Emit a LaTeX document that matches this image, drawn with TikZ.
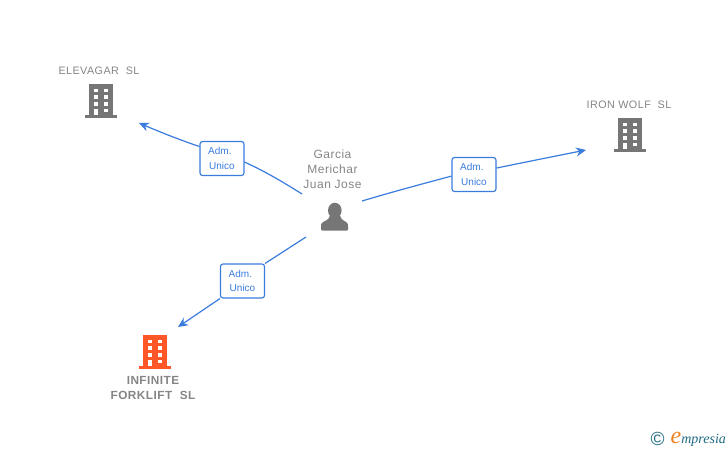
\documentclass[tikz,border=0pt]{standalone}
\usepackage{fontspec}
\setmainfont{Liberation Sans}
\newfontfamily\logofont{Liberation Serif}
\newfontfamily\spacedfont[LetterSpace=4]{Liberation Sans}
\usetikzlibrary{arrows.meta}
\newlength{\du}
\setlength{\du}{1pt}
\definecolor{labelgray}{RGB}{133,133,133}
\definecolor{icongray}{RGB}{118,118,118}
\definecolor{linkblue}{RGB}{58,124,222}
\definecolor{iconorange}{RGB}{255,87,40}
\definecolor{logoteal}{RGB}{30,105,130}
\definecolor{logoorange}{RGB}{240,130,30}
\tikzset{
  company/.style={text=labelgray,font=\spacedfont\fontsize{10.8}{14.5}\selectfont,align=center,inner sep=0pt},
  person/.style={text=labelgray,font=\spacedfont\fontsize{12}{14.8}\selectfont,align=center,inner sep=0pt},
  admbox/.style={draw=linkblue,fill=white,rounded corners=2.5pt,line width=1.1pt,text=linkblue,minimum width=44\du,minimum height=34\du,inner sep=0pt,align=left,font=\fontsize{10}{14.8}\selectfont},
  link/.style={draw=linkblue,line width=1.2pt},
  linkend/.style={link,-{Stealth[length=10pt,width=9pt]}},
}
% building icon, the first two values are the right end of its foot
\newcommand{\building}[3]{
  \fill[#3] (#1\du-22.7\du,#2\du-34\du) rectangle (#1\du+0.7\du,#2\du-2\du);
  \fill[#3] (#1\du-27\du,#2\du-3.2\du) rectangle (#1\du+5\du,#2\du);
  \foreach \wx in {-18.5,-8.5}
    \foreach \wy in {-29.5,-22.8,-16.1}
      \fill[white] (#1\du+\wx\du,#2\du+\wy\du) rectangle ++(4.8\du,3.6\du);
  \fill[white] (#1\du-18.5\du,#2\du-9.5\du) rectangle ++(4.8\du,6.5\du);
  \fill[white] (#1\du-8.5\du,#2\du-9.4\du) rectangle ++(4.8\du,3.6\du);
}
\begin{document}
\begin{tikzpicture}
\pgftransformxscale{1.000000}
\pgftransformyscale{-1.000000}
\useasboundingbox (0\du,0\du) rectangle (728\du,450\du);

% icons
\building{112}{118}{icongray}
\building{641}{152}{icongray}
\building{166}{369}{iconorange}
\fill[icongray] (334.8\du,210.5\du) ellipse [x radius=6.8\du,y radius=7.8\du];
\fill[icongray,rounded corners=1pt] (321\du,230.5\du)--(321\du,225\du)
  .. controls (322\du,221\du) and (329\du,221\du) .. (330\du,215\du)
  -- (340\du,215\du) .. controls (341\du,221\du) and (347\du,221\du) .. (348\du,225\du)
  -- (348\du,230.5\du)--cycle;

% labels
\node[company] (elevagar) at (99\du,70.5\du) {ELEVAGAR\ \ SL};
\node[company] (ironwolf) at (629\du,104.5\du) {IRON WOLF\ \ SL};
\node[company,font=\spacedfont\fontsize{11.8}{14.5}\selectfont\bfseries] (infinite) at (153\du,388\du) {INFINITE\\FORKLIFT\ \ SL};
\node[person] (garcia) at (332.5\du,169\du) {Garcia\\Merichar\\Juan Jose};

% free ends of the links
\coordinate (elevagarfrom) at (302\du,194\du);
\coordinate (elevagarto) at (139\du,123\du);
\coordinate (ironfrom) at (362\du,201\du);
\coordinate (ironto) at (586\du,150\du);
\coordinate (infinitefrom) at (306\du,237\du);
\coordinate (infiniteto) at (178\du,327\du);

\node[admbox] (admelevagar) at (222\du,158.5\du) {\hspace*{-1\du}Adm.\\Unico};
\node[admbox] (admiron) at (474\du,174.5\du) {\hspace*{-1\du}Adm.\\Unico};
\node[admbox] (adminfinite) at (242.5\du,281\du) {\hspace*{-1\du}Adm.\\Unico};

\draw[link] (elevagarfrom) .. controls (280\du,180\du) and (262\du,170\du) .. (admelevagar.-9);
\draw[linkend] (admelevagar.152) .. controls (180\du,140\du) and (160\du,132\du) .. (elevagarto);
\draw[link] (ironfrom) .. controls (392\du,192\du) and (422\du,184\du) .. (admiron.184);
\draw[linkend] (admiron.16) .. controls (526\du,162\du) and (556\du,156\du) .. (ironto);
\draw[link] (infinitefrom) -- (adminfinite.north east);
\draw[linkend] (adminfinite.south west) -- (infiniteto);

% logo
\node[text=logoteal,inner sep=0pt,font=\fontsize{19}{19}\selectfont] (copyr) at (657.5\du,438.5\du) {©};
\node[anchor=base west,inner sep=0pt] (brand) at (670.5\du,443\du) {\logofont\itshape{\color{logoorange}\fontsize{24}{24}\selectfont e}{\color{logoteal}\fontsize{14}{14}\selectfont mpresia}};
\end{tikzpicture}
\end{document}
